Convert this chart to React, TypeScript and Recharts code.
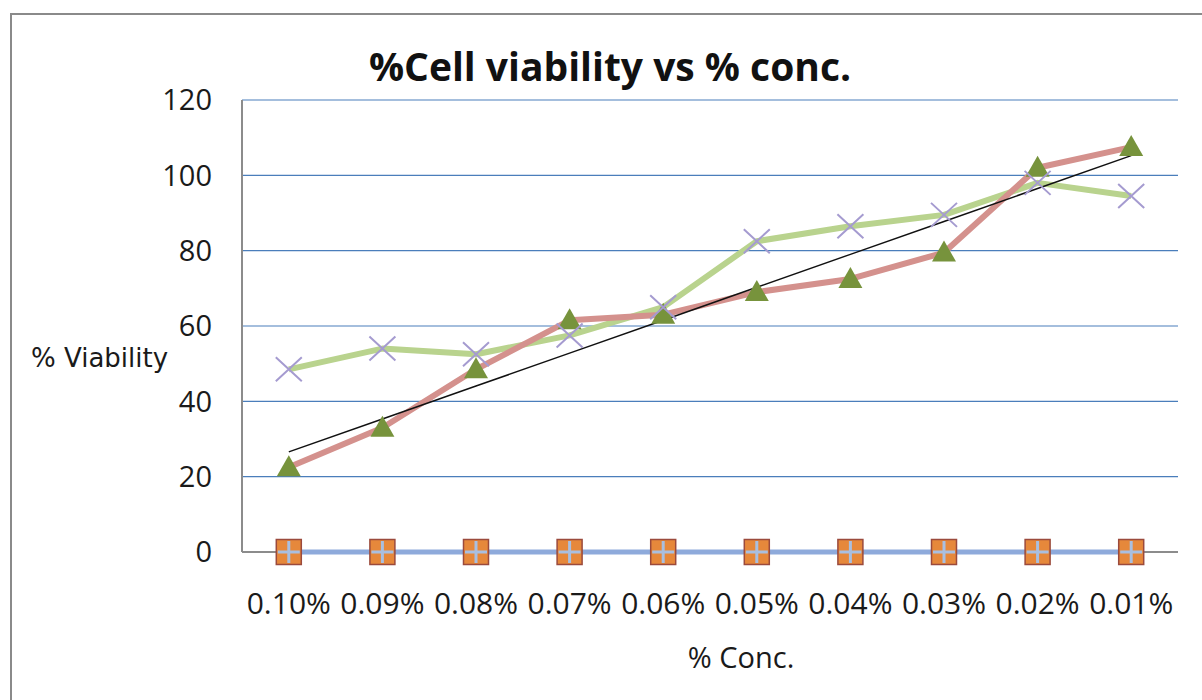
import { LineChart, Line, XAxis, YAxis, CartesianGrid, Label, ReferenceLine } from "recharts";

const categories = ["0.10%", "0.09%", "0.08%", "0.07%", "0.06%", "0.05%", "0.04%", "0.03%", "0.02%", "0.01%"];
const baseline = [0, 0, 0, 0, 0, 0, 0, 0, 0, 0];
const control = [0, 0, 0, 0, 0, 0, 0, 0, 0, 0];
const viabilityA = [22.5, 33, 48.5, 61.5, 63, 69, 72.5, 79.5, 102, 107.5];
const viabilityB = [48.5, 54, 52.5, 57.5, 65, 82.5, 86.5, 89.5, 98, 94.5];
const yTicks = [0, 20, 40, 60, 80, 100, 120];

// linear trendline of series A (least squares, like Excel's)
const n = viabilityA.length;
const meanX = (n - 1) / 2;
const meanY = viabilityA.reduce((a, b) => a + b, 0) / n;
let sxy = 0;
let sxx = 0;
viabilityA.forEach((v, i) => {
    sxy += (i - meanX) * (v - meanY);
    sxx += (i - meanX) * (i - meanX);
});
const slope = sxy / sxx;
const intercept = meanY - slope * meanX;

const data = categories.map((c, i) => ({
    conc: c,
    base: baseline[i],
    ctrl: control[i],
    a: viabilityA[i],
    b: viabilityB[i],
    trend: intercept + slope * i,
}));

const FONT = "'Open Sans', sans-serif";

const SquareDot = (props: any) => {
    const { cx, cy, index } = props;
    return (
        <rect
            key={`sq-${index}`}
            x={cx - 12.5}
            y={cy - 12.5}
            width={25}
            height={25}
            fill="#E6883B"
            stroke="#9B4A3C"
            strokeWidth={1.5}
        />
    );
};

const PlusDot = (props: any) => {
    const { cx, cy, index } = props;
    return (
        <path
            key={`pl-${index}`}
            d={`M${cx - 11},${cy}H${cx + 11}M${cx},${cy - 11}V${cy + 11}`}
            stroke="#A9BFE0"
            strokeWidth={3}
            fill="none"
        />
    );
};

const TriangleDot = (props: any) => {
    const { cx, cy, index } = props;
    return (
        <path
            key={`tr-${index}`}
            d={`M${cx},${cy - 12}L${cx + 12},${cy + 9}L${cx - 12},${cy + 9}Z`}
            fill="#77933C"
        />
    );
};

const CrossDot = (props: any) => {
    const { cx, cy, index } = props;
    return (
        <path
            key={`x-${index}`}
            d={`M${cx - 13},${cy - 12}L${cx + 13},${cy + 12}M${cx + 13},${cy - 12}L${cx - 13},${cy + 12}`}
            stroke="#A59BD0"
            strokeWidth={2}
            fill="none"
        />
    );
};

export default function App() {
    return (
        <div
            style={{
                position: "absolute",
                left: 0,
                top: 0,
                width: 1202,
                height: 700,
                background: "#fff",
                overflow: "hidden",
            }}
        >
            {/* chart frame, right and bottom edges are off the picture */}
            <div
                style={{
                    position: "absolute",
                    left: 10,
                    top: 13,
                    width: 1250,
                    height: 750,
                    borderLeft: "2.5px solid #8A8A8A",
                    borderTop: "2.5px solid #8A8A8A",
                }}
            />
            <div
                style={{
                    position: "absolute",
                    left: 610,
                    top: 40,
                    transform: "translateX(-50%)",
                    fontFamily: FONT,
                    fontWeight: 700,
                    fontSize: 39,
                    lineHeight: "52px",
                    whiteSpace: "nowrap",
                    color: "#111",
                }}
            >
                %Cell viability vs % conc.
            </div>
            <div style={{ position: "absolute", left: 0, top: 0 }}>
                <LineChart
                    width={1202}
                    height={700}
                    data={data}
                    margin={{ top: 100, right: 24, bottom: 0, left: 0 }}
                >
                    <CartesianGrid vertical={false} stroke="#4A7EBB" strokeWidth={1.2} />
                    <XAxis
                        dataKey="conc"
                        height={148}
                        interval={0}
                        tickLine={false}
                        axisLine={false}
                        padding={{ left: 46.8, right: 46.8 }}
                        tickMargin={35}
                        tick={{ fill: "#1a1a1a", fontSize: 30, fontFamily: FONT }}
                    >
                        <Label
                            value="% Conc."
                            position="insideBottom"
                            offset={32}
                            dx={31}
                            style={{ fill: "#1a1a1a", fontSize: 29, fontFamily: FONT }}
                        />
                    </XAxis>
                    <YAxis
                        width={242}
                        domain={[0, 120]}
                        ticks={yTicks}
                        tickLine={false}
                        axisLine={{ stroke: "#8C8C8C", strokeWidth: 2 }}
                        tickMargin={24}
                        tick={{ fill: "#1a1a1a", fontSize: 29, fontFamily: FONT }}
                    >
                        <Label
                            value="% Viability"
                            position="insideLeft"
                            offset={31}
                            dy={32}
                            angle={0}
                            style={{
                                fill: "#1a1a1a",
                                fontSize: 26,
                                fontFamily: "'DejaVu Sans', sans-serif",
                                textAnchor: "start",
                            }}
                        />
                    </YAxis>
                    {/* horizontal axis line, kept under the zero series */}
                    <ReferenceLine y={0} stroke="#8C8C8C" strokeWidth={2} />
                    <Line
                        dataKey="ctrl"
                        stroke="none"
                        dot={SquareDot}
                        activeDot={false}
                        isAnimationActive={false}
                    />
                    <Line
                        dataKey="base"
                        stroke="#8EAADB"
                        strokeWidth={5}
                        dot={PlusDot}
                        activeDot={false}
                        isAnimationActive={false}
                    />
                    <Line
                        dataKey="a"
                        stroke="none"
                        dot={TriangleDot}
                        activeDot={false}
                        isAnimationActive={false}
                    />
                    <Line
                        dataKey="b"
                        stroke="none"
                        dot={CrossDot}
                        activeDot={false}
                        isAnimationActive={false}
                    />
                    <Line
                        dataKey="b"
                        stroke="#B9D38E"
                        strokeWidth={6}
                        strokeLinejoin="round"
                        dot={false}
                        activeDot={false}
                        isAnimationActive={false}
                    />
                    <Line
                        dataKey="a"
                        stroke="#D4918D"
                        strokeWidth={6}
                        strokeLinejoin="round"
                        dot={false}
                        activeDot={false}
                        isAnimationActive={false}
                    />
                    <Line
                        dataKey="trend"
                        stroke="#111"
                        strokeWidth={1.5}
                        dot={false}
                        activeDot={false}
                        isAnimationActive={false}
                    />
                </LineChart>
            </div>
        </div>
    );
}
